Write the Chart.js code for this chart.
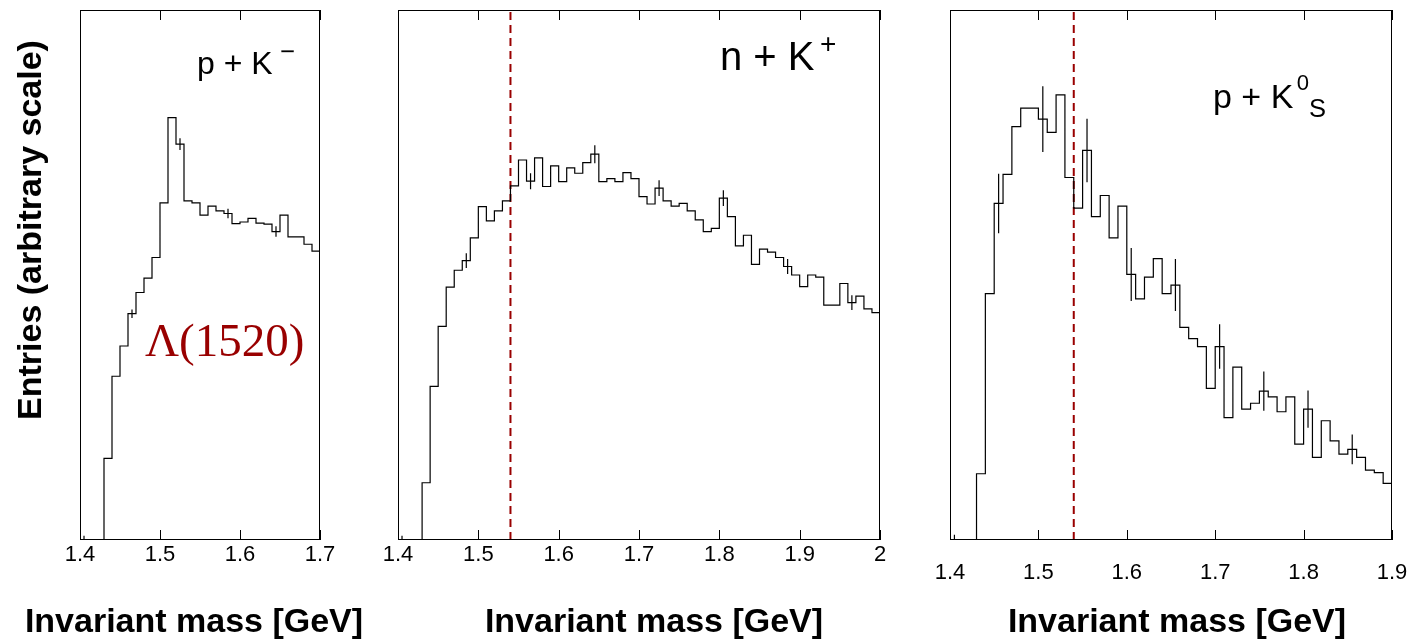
<!DOCTYPE html>
<html>
<head>
<meta charset="utf-8">
<script src="https://cdn.jsdelivr.net/npm/chart.js@4.4.1/dist/chart.umd.min.js"></script>
<style>
  html, body { margin: 0; padding: 0; background: #fff; }
  #page { position: relative; width: 1414px; height: 641px; overflow: hidden; font-family: 'Liberation Sans', Arial, sans-serif; }
  .panel { position: absolute; top: 0; height: 641px; }
  .lbl { position: absolute; white-space: nowrap; color: #000; line-height: 1; z-index: 2; }
  .lbl sup, .lbl sub { font-size: 0.65em; position: relative; vertical-align: baseline; margin-left: 0.15em; }
  .xtitle { position: absolute; top: 600px; width: 500px; height: 40px; line-height: 40px; text-align: center; font-weight: bold; font-size: 34px; z-index: 2; }
  .ytitle { position: absolute; left: -221px; top: 210px; width: 500px; height: 40px; line-height: 40px; text-align: center; font-weight: bold; font-size: 34px; transform: rotate(-90deg); z-index: 2; }
</style>
</head>
<body>
<div id="page">
  <div class="panel" style="left:40px"><canvas id="c1" width="320" height="641"></canvas></div>
  <div class="panel" style="left:362px"><canvas id="c2" width="554" height="641"></canvas></div>
  <div class="panel" style="left:914px"><canvas id="c3" width="514" height="641"></canvas></div>

  <div class="ytitle">Entries (arbitrary scale)</div>
  <div class="xtitle" style="left:-56px">Invariant mass [GeV]</div>
  <div class="xtitle" style="left:404px">Invariant mass [GeV]</div>
  <div class="xtitle" style="left:927px">Invariant mass [GeV]</div>

  <div class="lbl" style="left:197px; top:47px; font-size:32px">p + K<sup style="top:-0.55em; font-size:0.8em; margin-left:0.3em">&minus;</sup></div>
  <div class="lbl" style="left:720px; top:36px; font-size:40px">n + K<sup style="top:-0.6em; font-size:0.7em; margin-left:0.2em">+</sup></div>
  <div class="lbl" style="left:1213px; top:79px; font-size:34px">p + K<sup style="top:-0.8em">0</sup><sub style="top:0.35em; font-size:0.75em; margin-left:0">S</sub></div>
  <div class="lbl" style="left:145px; top:317px; font-size:47px; font-family:'Liberation Serif', 'Times New Roman', serif; color:#990000">&Lambda;(1520)</div>
</div>

<script>
// binning shared by all three histograms
const binStart = 1.40;
const binWidth = 0.01;
const cutMass = 1.54;

// p + K- (1.40 - 1.70), entries in % of frame height
const pKminus = [0, 0, 0, 15.4, 30.9, 36.6, 42.7, 46.7, 49.4, 53.3,
  63.6, 79.7, 74.7, 64.0, 63.6, 61.3, 63.0, 62.1, 61.6, 59.7,
  60.0, 60.7, 59.8, 59.6, 58.2, 61.3, 57.2, 57.2, 55.8, 54.5];
const pKminusErrBins = [0, 6, 12, 18, 24];
const pKminusErr = [0.8, 0.8, 1.1, 0.9, 1.0];

// n + K+ (1.40 - 2.00)
const nKplus = [0, 0, 0, 10.8, 29.0, 40.3, 47.7, 50.9, 52.7, 57.0,
  62.9, 60.2, 62.1, 64.0, 66.8, 71.7, 67.7, 72.1, 66.7, 70.6,
  67.6, 70.2, 69.2, 71.2, 72.8, 67.6, 68.2, 67.6, 69.3, 68.2,
  64.8, 63.4, 66.4, 64.0, 63.0, 63.5, 62.1, 60.4, 58.2, 58.8,
  64.5, 61.0, 55.5, 57.5, 52.0, 54.9, 54.3, 53.3, 51.6, 50.0,
  47.8, 50.0, 49.6, 44.3, 44.3, 48.4, 44.8, 46.0, 43.6, 42.9];
const nKplusErrBins = [0, 8, 16, 24, 32, 40, 48, 56];
const nKplusErr = [0.8, 1.4, 1.5, 1.7, 1.5, 1.5, 1.4, 1.4];

// p + K0s (1.40 - 1.90)
const pK0s = [0, 0, 0, 12.5, 46.5, 63.5, 69.0, 78.0, 81.5, 81.5,
  79.4, 76.9, 84.0, 68.4, 62.6, 73.5, 61.0, 65.0, 57.0, 63.0,
  50.1, 45.5, 49.6, 53.1, 46.5, 48.1, 40.1, 38.0, 36.5, 28.6,
  36.5, 23.1, 32.6, 24.7, 25.8, 28.1, 27.0, 24.2, 27.0, 18.1,
  24.7, 15.6, 22.5, 18.7, 16.2, 17.1, 15.6, 13.2, 12.7, 10.7];
const pK0sErrBins = [0, 5, 10, 15, 20, 25, 30, 35, 40, 45];
const pK0sErr = [1.0, 5.6, 6.2, 6.0, 5.0, 4.9, 4.2, 3.7, 3.5, 2.8];

Chart.defaults.font.family = "'Liberation Sans', Arial, sans-serif";
Chart.defaults.color = '#000';

function histPoints(values) {
  const pts = values.map((v, i) => ({ x: binStart + i * binWidth, y: v }));
  pts.push({ x: binStart + values.length * binWidth, y: values[values.length - 1] });
  return pts;
}

function errPoints(values, bins, errs) {
  const pts = [];
  bins.forEach((b, k) => {
    const xc = binStart + (b + 0.5) * binWidth;
    pts.push({ x: xc, y: values[b] - errs[k] }, { x: xc, y: values[b] + errs[k] }, { x: xc, y: null });
  });
  return pts;
}

// frame around the plot and inward-pointing ticks top and bottom
const framePlugin = {
  id: 'frame',
  afterDatasetsDraw(chart) {
    const { ctx, chartArea: a, scales: { x } } = chart;
    ctx.save();
    ctx.strokeStyle = '#000';
    ctx.lineWidth = 1;
    ctx.strokeRect(a.left + 0.5, a.top + 0.5, a.width - 1, a.height - 1);
    ctx.beginPath();
    x.ticks.forEach(t => {
      const px = Math.round(x.getPixelForValue(t.value)) + 0.5;
      ctx.moveTo(px, a.bottom); ctx.lineTo(px, a.bottom - 10);
      ctx.moveTo(px, a.top); ctx.lineTo(px, a.top + 10);
    });
    ctx.stroke();
    ctx.restore();
  }
};

function makeChart(id, values, errBins, errs, xMax, showCut, tickPad, padL, padR) {
  const datasets = [
    { data: histPoints(values), stepped: 'before', borderColor: '#000', borderWidth: 1.2 },
    { data: errPoints(values, errBins, errs), borderColor: '#000', borderWidth: 1.2, spanGaps: false }
  ];
  if (showCut) {
    datasets.push({ data: [{ x: cutMass, y: 0 }, { x: cutMass, y: 100 }],
      borderColor: '#990000', borderWidth: 2, borderDash: [8, 5] });
  }
  new Chart(document.getElementById(id).getContext('2d'), {
    type: 'line',
    data: { datasets },
    options: {
      responsive: false,
      animation: false,
      layout: { padding: { left: padL, right: padR, top: 10, bottom: 0 } },
      plugins: { legend: { display: false }, tooltip: { enabled: false } },
      elements: { point: { radius: 0 }, line: { tension: 0, fill: false } },
      scales: {
        x: {
          type: 'linear', min: 1.4, max: xMax,
          grid: { display: false, drawTicks: false },
          border: { display: false },
          ticks: {
            stepSize: 0.1, padding: tickPad, color: '#000', font: { size: 22 },
            maxRotation: 0, autoSkip: false,
            callback: v => String(Number(v.toFixed(2)))
          },
          afterFit: s => { s.height = 101; }
        },
        y: { display: false, min: 0, max: 100 }
      }
    },
    plugins: [framePlugin]
  });
}

makeChart('c1', pKminus, pKminusErrBins, pKminusErr, 1.7, false, 2, 40, 40);
makeChart('c2', nKplus, nKplusErrBins, nKplusErr, 2.0, true, 2, 36, 36);
makeChart('c3', pK0s, pK0sErrBins, pK0sErr, 1.9, true, 20, 36, 36);
</script>
</body>
</html>
